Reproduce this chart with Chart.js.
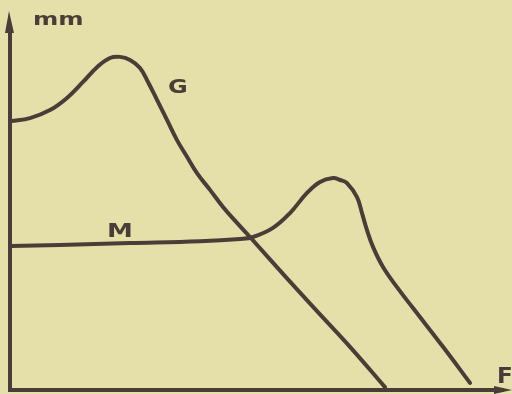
<!DOCTYPE html>
<html>
<head>
<meta charset="utf-8">
<script src="https://cdn.jsdelivr.net/npm/chart.js@4"></script>
<style>
  html, body { margin: 0; padding: 0; background: #e5e0a9; }
  #wrap { width: 512px; height: 394px; }
</style>
</head>
<body>
<div id="wrap"><canvas id="myChart" width="512" height="394"></canvas></div>
<script>
// kurve G
const gX = [0, 3.8, 7.8, 11.2, 14.4, 17.2, 19.8, 21.8, 23.8, 25.8, 27.4, 29.2, 31.2, 33.2, 35.2, 37.2, 39.8, 42.4, 45.2, 47.8, 54.8, 61.2, 67.8, 74.8];
const gY = [70.5, 71.3, 73.4, 76.6, 80.8, 84.7, 87.1, 87.4, 86.6, 84.5, 80.8, 76.1, 70.8, 65.5, 61.1, 56.8, 52.4, 47.9, 43.7, 40.0, 29.7, 20.5, 11.1, 0.5];

// kurve M
const mX = [0, 9.8, 23.8, 37.8, 45.8, 48.4, 52.4, 55.8, 59.2, 61.8, 64.4, 65.8, 67.2, 69.2, 70.2, 71.2, 72.4, 74.4, 77.2, 80.4, 86.4, 91.8];
const mY = [37.6, 37.9, 38.4, 38.9, 39.5, 40, 42.4, 46.3, 51.6, 54.5, 55.5, 55.0, 54.2, 50.5, 46.3, 41.8, 37.4, 32.1, 26.8, 21.3, 11.1, 1.6];

const yLabel = "mm";
const xLabel = "F";
const seriesNames = ["G", "M"];

const ink = "#4a3d38";

function points(xs, ys) {
    return xs.map((x, i) => ({x: x, y: ys[i]}));
}

/*tegner akser, pile og bogstaver*/
const axesPlugin = {
    id: "axes",
    beforeDraw(chart) {
        const ctx = chart.ctx;
        ctx.save();
        ctx.fillStyle = "#e5e0a9";
        ctx.fillRect(0, 0, chart.width, chart.height);
        ctx.restore();
    },
    afterDraw(chart) {
        const ctx = chart.ctx;
        const a = chart.chartArea;
        const xs = chart.scales.x;
        const ys = chart.scales.y;
        const ax = a.left - 1;
        const ay = a.bottom + 1;
        ctx.save();
        ctx.strokeStyle = ink;
        ctx.fillStyle = ink;
        ctx.lineWidth = 4;
        ctx.lineCap = "butt";
        ctx.beginPath();
        ctx.moveTo(ax, ay + 2);
        ctx.lineTo(ax, 28);
        ctx.moveTo(ax - 2, ay);
        ctx.lineTo(504, ay);
        ctx.stroke();
        // pil op
        ctx.beginPath();
        ctx.moveTo(ax - 1, 11);
        ctx.lineTo(ax + 4, 33);
        ctx.lineTo(ax - 5, 33);
        ctx.closePath();
        ctx.fill();
        // pil til hoejre
        ctx.beginPath();
        ctx.moveTo(512, ay);
        ctx.lineTo(494, ay - 4);
        ctx.lineTo(494, ay + 4);
        ctx.closePath();
        ctx.fill();

        function label(text, px, py, size, stretch) {
            ctx.save();
            ctx.translate(px, py);
            ctx.scale(stretch, 1);
            ctx.font = "bold " + size + "px 'DejaVu Sans'";
            ctx.textBaseline = "alphabetic";
            ctx.fillText(text, 0, 0);
            ctx.restore();
        }
        label(yLabel, 33, 25, 18, 1.35);
        label(xLabel, 497, 383, 21, 1.1);
        label(seriesNames[0], xs.getPixelForValue(31.4), ys.getPixelForValue(77.8), 20, 1.2);
        label(seriesNames[1], xs.getPixelForValue(19.2), ys.getPixelForValue(40), 20, 1.3);
        ctx.restore();
    }
};

const lineStyle = {
    borderColor: ink,
    backgroundColor: ink,
    borderWidth: 4,
    pointRadius: 0,
    tension: 0.4,
    fill: false,
    borderCapStyle: "round",
    borderJoinStyle: "round"
};

const data = {
    datasets: [
        Object.assign({label: seriesNames[0], data: points(gX, gY)}, lineStyle),
        Object.assign({label: seriesNames[1], data: points(mX, mY)}, lineStyle)
    ]
};

const config = {
    type: "line",
    data: data,
    options: {
        responsive: false,
        animation: false,
        layout: {padding: {left: 11, right: 1, top: 9, bottom: 5}},
        plugins: {legend: {display: false}, tooltip: {enabled: false}},
        scales: {
            x: {type: "linear", min: 0, max: 100, display: false},
            y: {min: 0, max: 100, display: false}
        }
    },
    plugins: [axesPlugin]
};

window.onload = (function () {
    const myChart = new Chart(document.getElementById("myChart"), config);
});
</script>
</body>
</html>
